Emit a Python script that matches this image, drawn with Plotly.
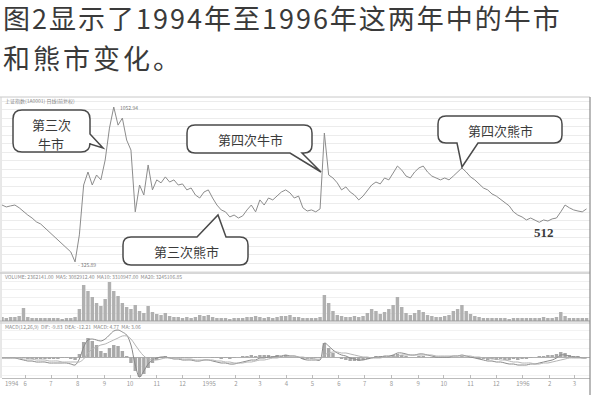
import pandas as pd
import plotly.graph_objects as go

# ---------------- data ----------------
close = [
    593, 584, 589, 593, 580, 561, 546, 532, 514, 504,
    485, 467, 448, 429, 410, 392, 373, 326, 453, 687,
    748, 687, 734, 711, 804, 954, 1053, 968, 1001, 898,
    851, 561, 687, 640, 781, 664, 711, 697, 725, 701,
    711, 687, 692, 664, 673, 640, 626, 654, 664, 626,
    593, 570, 561, 537, 546, 532, 542, 570, 593, 561,
    617, 593, 626, 617, 635, 654, 664, 650, 626, 635,
    580, 565, 570, 561, 575, 931, 734, 720, 697, 664,
    678, 654, 640, 617, 635, 664, 687, 701, 692, 720,
    711, 743, 776, 757, 729, 720, 748, 767, 776, 748,
    729, 720, 711, 720, 711, 729, 748, 767, 748, 725,
    711, 692, 673, 664, 645, 635, 621, 603, 589, 561,
    546, 537, 523, 532, 523, 512, 523, 518, 528, 532,
    561, 593, 580, 570, 565, 561, 575]

volume = [
    4, 3, 4, 4, 5, 13, 4, 3, 3, 3,
    3, 3, 3, 3, 2, 3, 3, 4, 12, 36,
    30, 24, 18, 15, 22, 39, 30, 25, 18, 14,
    12, 16, 10, 8, 15, 9, 7, 6, 8, 5,
    4, 4, 3, 4, 3, 4, 6, 5, 6, 4,
    3, 3, 3, 2, 3, 3, 3, 4, 4, 5,
    4, 3, 4, 3, 4, 5, 5, 6, 4, 4,
    3, 3, 3, 3, 4, 26, 18, 10, 6, 5,
    4, 4, 5, 4, 5, 8, 12, 10, 7, 9,
    12, 16, 24, 14, 8, 6, 8, 11, 9, 6,
    5, 4, 4, 5, 6, 10, 12, 16, 10, 7,
    5, 4, 3, 3, 3, 3, 3, 3, 2, 3,
    3, 3, 3, 3, 3, 3, 4, 3, 3, 4,
    9, 5, 3, 3, 3, 3, 3]

dif = [
    -1, -1, -1, -1, -2, -3, -4, -4, -5, -5,
    -5, -6, -6, -6, -6, -6, -7, -8, -2, 10,
    17, 18, 17, 16, 18, 22, 26, 27, 25, 22,
    12, -8, -20, -14, -7, -3, -1, 0, 0, -1,
    -2, -2, -3, -3, -3, -4, -4, -3, -3, -4,
    -5, -6, -6, -7, -7, -6, -5, -4, -3, -3,
    -1, -1, 0, 0, 1, 1, 2, 1, 1, 0,
    -2, -3, -3, -3, -3, 14, 11, 7, 4, 2,
    1, -1, -2, -3, -3, -2, -1, 0, 0, 1,
    1, 2, 4, 4, 3, 2, 2, 3, 3, 2,
    1, 0, 0, 0, 0, 1, 1, 2, 1, 0,
    -1, -2, -3, -4, -4, -5, -5, -6, -7, -7,
    -8, -8, -8, -7, -7, -6, -5, -4, -3, -1,
    2, 2, 1, 0, 0, -1, -1]

dea = [
    -1, -1, -1, -1, -1, -2, -2, -2, -3, -3,
    -3, -4, -4, -4, -5, -5, -5, -5, -5, -2,
    4, 8, 10, 12, 13, 15, 17, 19, 21, 21,
    18, 12, 6, 1, -2, -3, -3, -2, -1, -1,
    -1, -1, -2, -2, -2, -3, -3, -3, -3, -3,
    -4, -4, -5, -5, -6, -6, -6, -5, -5, -4,
    -3, -3, -2, -1, -1, 0, 0, 1, 1, 0,
    0, -1, -1, -2, -2, 2, 4, 5, 5, 4,
    4, 3, 2, 1, 0, 0, -1, -1, -1, 0,
    0, 0, 1, 2, 2, 2, 2, 2, 2, 2,
    2, 1, 1, 1, 1, 1, 1, 1, 1, 1,
    0, 0, -1, -1, -2, -2, -3, -3, -4, -5,
    -5, -6, -6, -6, -7, -7, -6, -6, -5, -4,
    -3, -2, -1, -1, -1, -1, -1]

macd_hist = [
    0, 0, 0, 0, -1, -1, -2, -2, -2, -2,
    -2, -2, -2, -2, -1, -1, -2, -3, 3, 15,
    19, 16, 12, 6, 4, 9, 12, 11, 6, 1,
    -6, -14, -20, -17, -11, -6, -3, -1, 1, 0,
    -1, -1, -1, -1, -1, -1, -1, 0, 0, -1,
    -1, -2, -1, -2, -1, 0, 1, 1, 2, 1,
    2, 2, 2, 1, 2, 1, 2, 0, 0, 0,
    -2, -2, -2, -1, -1, 14, 9, 4, 0, -2,
    -3, -4, -4, -4, -3, -2, 0, 1, 1, 1,
    1, 2, 3, 2, 1, 0, 0, 1, 1, 0,
    -1, -1, -1, -1, -1, 0, 0, 1, 0, -1,
    -1, -2, -2, -3, -2, -3, -2, -3, -3, -2,
    -3, -2, -2, -1, 0, 1, 1, 2, 2, 3,
    5, 4, 2, 1, 1, 0, 0]

month_ticks = pd.date_range("1994-06-01", "1996-03-01", freq="MS")
month_labels = ["6", "7", "8", "9", "10", "11", "12", "1995", "2", "3", "4",
                "5", "6", "7", "8", "9", "10", "11", "12", "1996", "2", "3"]

dates = pd.date_range("1994-05-05", periods=len(close), freq="5D")

# ---------------- geometry helpers ----------------
L, R, T, B = 2, 10, 97, 22
W, H = 600 - L - R, 400 - T - B


def P(x, y):
    return (x - L) / W, (T + H - y) / H


def fy(y):
    return (T + H - y) / H


def callout(x0, y0, x1, y1, r, side, b1, b2, tip):
    pts = []
    pts.append(("M", (x0 + r, y0)))
    if side == "top":
        pts += [("L", (b1, y0)), ("L", tip), ("L", (b2, y0))]
    pts.append(("L", (x1 - r, y0)))
    pts.append(("Q", (x1, y0), (x1, y0 + r)))
    if side == "right":
        pts += [("L", (x1, b1)), ("L", tip), ("L", (x1, b2))]
    pts.append(("L", (x1, y1 - r)))
    pts.append(("Q", (x1, y1), (x1 - r, y1)))
    if side == "bottom":
        pts += [("L", (b2, y1)), ("L", tip), ("L", (b1, y1))]
    pts.append(("L", (x0 + r, y1)))
    pts.append(("Q", (x0, y1), (x0, y1 - r)))
    pts.append(("L", (x0, y0 + r)))
    pts.append(("Q", (x0, y0), (x0 + r, y0)))
    s = ""
    for item in pts:
        cmd = item[0]
        coords = " ".join("%.5f,%.5f" % P(*c) for c in item[1:])
        s += "%s %s " % (cmd, coords)
    return s + "Z"


# ---------------- figure ----------------
fig = go.Figure()
fig.add_trace(go.Scatter(x=dates, y=close, mode="lines",
                         line=dict(color="#8c8c8c", width=1),
                         xaxis="x", yaxis="y", hoverinfo="skip"))
fig.add_trace(go.Bar(x=dates, y=volume, marker=dict(color="#b0b0b0", line_width=0),
                     xaxis="x", yaxis="y2", hoverinfo="skip"))
fig.add_trace(go.Bar(x=dates, y=macd_hist, marker=dict(color="#a8a8a8", line_width=0),
                     xaxis="x", yaxis="y3", hoverinfo="skip"))
fig.add_trace(go.Scatter(x=dates, y=dif, mode="lines",
                         line=dict(color="#8a8a8a", width=1, shape="spline"),
                         xaxis="x", yaxis="y3", hoverinfo="skip"))
fig.add_trace(go.Scatter(x=dates, y=dea, mode="lines",
                         line=dict(color="#b5b5b5", width=1, shape="spline"),
                         xaxis="x", yaxis="y3", hoverinfo="skip"))

d_main = [fy(273), 1]
d_vol = [fy(321), fy(274)]
d_macd = [0, fy(323)]

fig.update_layout(
    width=600, height=400,
    margin=dict(l=L, r=R, t=T, b=B),
    paper_bgcolor="white", plot_bgcolor="white",
    showlegend=False, bargap=0.2,
    font=dict(family="Noto Sans CJK SC", color="#333"),
    xaxis=dict(type="date", range=["1994-05-05", "1996-03-19"], anchor="y3",
               tickvals=month_ticks, ticktext=month_labels,
               tickfont=dict(size=6, color="#9a9a9a"),
               ticks="inside", ticklen=3, tickcolor="#bbbbbb",
               showgrid=False, showline=True, linecolor="#bbbbbb", zeroline=False),
    yaxis=dict(domain=d_main, range=[274, 1100], anchor="x",
               showticklabels=False, dtick=40, gridcolor="#ececec", gridwidth=1,
               zeroline=False, showline=False),
    yaxis2=dict(domain=d_vol, range=[0, 47], anchor="x",
                showticklabels=False, dtick=8, gridcolor="#f0f0f0",
                zeroline=False),
    yaxis3=dict(domain=d_macd, range=[-21, 34], anchor="x",
                showticklabels=False, dtick=9, gridcolor="#f2f2f2",
                zeroline=True, zerolinecolor="#b0b0b0", zerolinewidth=1),
)

shapes = []
# panel frame lines
for yy, col in [(97, "#c8c8c8"), (273, "#b0b0b0"), (321, "#9a9a9a"), (323, "#c8c8c8")]:
    x0, y0 = P(0, yy)
    x1, _ = P(590, yy)
    shapes.append(dict(type="line", xref="paper", yref="paper", x0=x0, x1=x1, y0=y0, y1=y0,
                       line=dict(color=col, width=1)))
x0, y0 = P(1, 97)
_, y1 = P(1, 378)
shapes.append(dict(type="line", xref="paper", yref="paper", x0=x0, x1=x0, y0=y0, y1=y1,
                   line=dict(color="#d0d0d0", width=1)))
x0, y0 = P(590, 97)
_, y1 = P(590, 395)
shapes.append(dict(type="line", xref="paper", yref="paper", x0=x0, x1=x0, y0=y0, y1=y1,
                   line=dict(color="#8a8a8a", width=1.2)))

# callouts
for spec in [
    (13, 110, 90, 152, 9, "right", 134, 144, (103, 148)),
    (187, 125, 312, 153, 8, "bottom", 290, 302, (321, 172)),
    (123, 237, 248, 265, 8, "top", 197, 226, (218, 215)),
    (438, 116, 562, 143, 8, "bottom", 457, 478, (462, 167)),
]:
    shapes.append(dict(type="path", xref="paper", yref="paper", path=callout(*spec),
                       fillcolor="white", line=dict(color="#4a4a4a", width=1.5), layer="above"))
fig.update_layout(shapes=shapes)

ann = []


def text_px(x, y, text, size, color="#333", anchor="center", family="Noto Sans CJK SC"):
    px_, py_ = P(x, y)
    ann.append(dict(xref="paper", yref="paper", x=px_, y=py_, text=text, showarrow=False,
                    xanchor=anchor, yanchor="middle",
                    font=dict(size=size, color=color, family=family)))


text_px(1, 18, '<span style="letter-spacing:2px">%s</span>' % "图2显示了1994年至1996年这两年中的牛市",
        27, "#3a3a3a", "left")
text_px(1, 57, '<span style="letter-spacing:3px">%s</span>' % "和熊市变化。", 27, "#3a3a3a", "left")

text_px(51, 124, "第三次", 13, "#3a3a3a")
text_px(51, 143, "牛市", 13, "#3a3a3a")
text_px(250, 139, "第四次牛市", 13, "#3a3a3a")
text_px(186, 251, "第三次熊市", 13, "#3a3a3a")
text_px(500, 130, "第四次熊市", 13, "#3a3a3a")

text_px(3, 101, "上证指数(1A0001) 日线(前复权)", 5, "#888", "left")
text_px(3, 276, "VOLUME: 2362141.00  MA5: 3082912.40  MA10: 3310947.00  MA20: 3245106.85", 5, "#888", "left")
text_px(3, 326, "MACD(12,26,9)  DIF: -9.83  DEA: -12.21  MACD: 4.77  MA: 3.06", 5, "#888", "left")
text_px(3, 383, "1994", 6, "#9a9a9a", "left")

# value labels tied to the data
ann.append(dict(x=dates[26], y=close[26], xref="x", yref="y", text="1052.94",
                showarrow=False, xanchor="left", yanchor="middle", xshift=4,
                font=dict(size=5, color="#777")))
ann.append(dict(x=dates[17], y=close[17], xref="x", yref="y", text="- 325.89",
                showarrow=False, xanchor="left", yanchor="middle", xshift=1, yshift=-3,
                font=dict(size=5, color="#777")))
ann.append(dict(x=dates[126], y=close[125], xref="x", yref="y", text="<b>512</b>",
                showarrow=False, xanchor="center", yanchor="middle", yshift=-10,
                font=dict(size=13, color="#3a3a3a", family="Liberation Serif")))
fig.update_layout(annotations=ann)

fig.write_html("out.html",
               config={"displayModeBar": False, "staticPlot": True},
               post_script="document.body.style.margin='0';document.body.style.padding='0';")
